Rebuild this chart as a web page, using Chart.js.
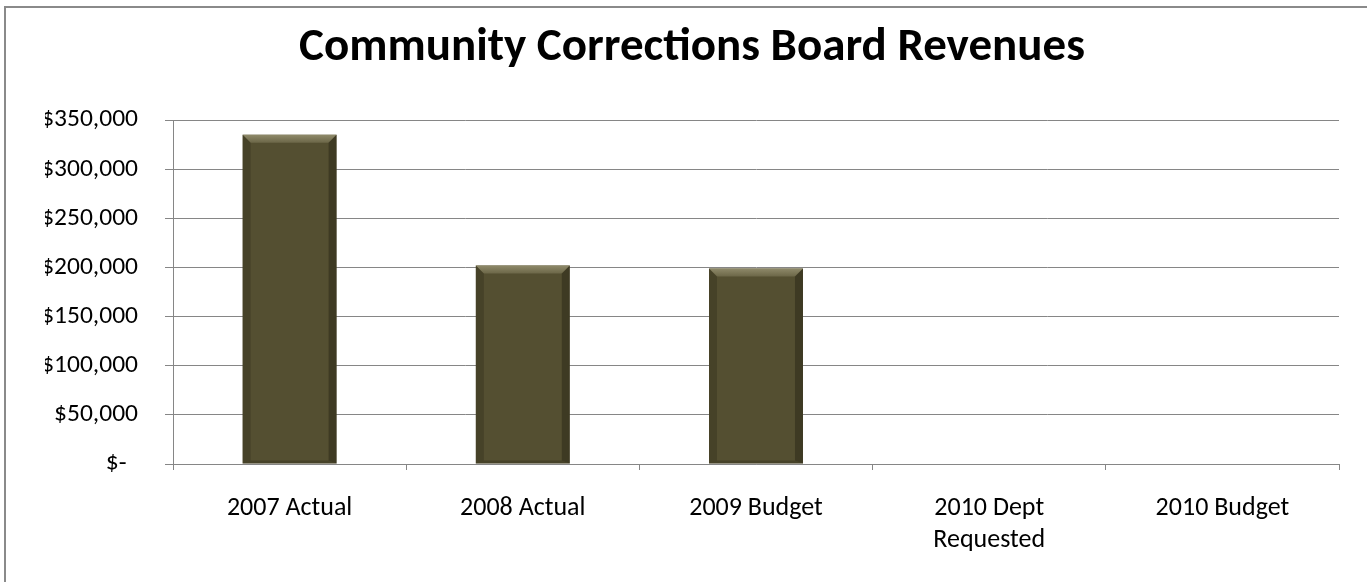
<!DOCTYPE html>
<html>
<head>
<meta charset="utf-8">
<script src="https://cdn.jsdelivr.net/npm/chart.js@4/dist/chart.umd.min.js"></script>
<style>
  html, body { margin: 0; padding: 0; background: #ffffff; overflow: hidden; }
  #frame { position: absolute; left: 4px; top: 6px; width: 2000px; height: 2000px;
           border-left: 2px solid #8a8a8a; border-top: 2px solid #8a8a8a; }
  #wrap { position: absolute; left: 0; top: 0; width: 1367px; height: 582px; }
</style>
</head>
<body>
<div id="frame"></div>
<div id="wrap"><canvas id="c"></canvas></div>
<script>
const titleText = 'Community Corrections Board Revenues';
const categories = ['2007 Actual', '2008 Actual', '2009 Budget', ['2010 Dept', 'Requested'], '2010 Budget'];
const revenues = [335000, 202000, 199000, null, null];
const yMin = 0;
const yMax = 350000;
const yStep = 50000;

const FONT = "Carlito, Lato, 'Open Sans', sans-serif";

const bevelPlugin = {
  id: 'bevel',
  afterDatasetsDraw(chart) {
    const ctx = chart.ctx;
    const ds = chart.data.datasets[0].data;
    chart.getDatasetMeta(0).data.forEach((bar, i) => {
      if (ds[i] == null || !isFinite(bar.y)) return;
      const l = bar.x - bar.width / 2, r = bar.x + bar.width / 2;
      const t = bar.y, b = bar.base;
      const s = 8;
      ctx.save();
      let g = ctx.createLinearGradient(0, t, 0, t + s);
      g.addColorStop(0, '#8f8a6a');
      g.addColorStop(1, '#6c6748');
      ctx.fillStyle = g;
      ctx.beginPath();
      ctx.moveTo(l, t); ctx.lineTo(r, t); ctx.lineTo(r - s, t + s); ctx.lineTo(l + s, t + s); ctx.closePath();
      ctx.fill();
      ctx.fillStyle = 'rgba(40,37,20,0.3)';
      ctx.beginPath();
      ctx.moveTo(l, t); ctx.lineTo(l + s, t + s); ctx.lineTo(l + s, b - 3); ctx.lineTo(l, b); ctx.closePath();
      ctx.fill();
      ctx.fillStyle = 'rgba(30,28,14,0.4)';
      ctx.beginPath();
      ctx.moveTo(r, t); ctx.lineTo(r - s, t + s); ctx.lineTo(r - s, b - 3); ctx.lineTo(r, b); ctx.closePath();
      ctx.fill();
      ctx.fillStyle = 'rgba(40,37,20,0.3)';
      ctx.beginPath();
      ctx.moveTo(l, b); ctx.lineTo(l + s, b - 3); ctx.lineTo(r - s, b - 3); ctx.lineTo(r, b); ctx.closePath();
      ctx.fill();
      ctx.restore();
    });
  }
};

new Chart(document.getElementById('c'), {
  type: 'bar',
  data: {
    labels: categories,
    datasets: [{
      data: revenues,
      backgroundColor: '#544f31',
      borderWidth: 0,
      barPercentage: 0.403,
      categoryPercentage: 1.0
    }]
  },
  options: {
    responsive: true,
    maintainAspectRatio: false,
    animation: false,
    layout: { padding: { left: 45, right: 28, top: 0, bottom: 0 } },
    plugins: {
      legend: { display: false },
      tooltip: { enabled: false },
      title: {
        display: true,
        text: titleText,
        color: '#000000',
        font: { family: FONT, size: 47, weight: 'bold', lineHeight: 1.2 },
        padding: { top: 20, bottom: 43.6 }
      }
    },
    scales: {
      x: {
        offset: true,
        grid: { display: true, drawOnChartArea: false, drawTicks: true, tickLength: 6, offset: true, color: '#868686' },
        border: { display: true, color: '#868686', width: 1 },
        ticks: { color: '#000000', maxRotation: 0, autoSkip: false, padding: 23,
                 font: { family: FONT, size: 26, lineHeight: 1.23 } },
        afterFit(scale) { scale.height = 118; }
      },
      y: {
        min: yMin,
        max: yMax,
        grid: { color: '#868686', lineWidth: 1, tickLength: 8, drawTicks: true },
        border: { display: true, color: '#868686', width: 1 },
        ticks: {
          stepSize: yStep,
          color: '#000000',
          padding: 27,
          font: { family: FONT, size: 25.5 },
          callback: (v) => v === 0 ? '$-  ' : '$' + v.toLocaleString('en-US')
        },
        afterFit(scale) { scale.width = 128; }
      }
    }
  },
  plugins: [bevelPlugin]
});
</script>
</body>
</html>
